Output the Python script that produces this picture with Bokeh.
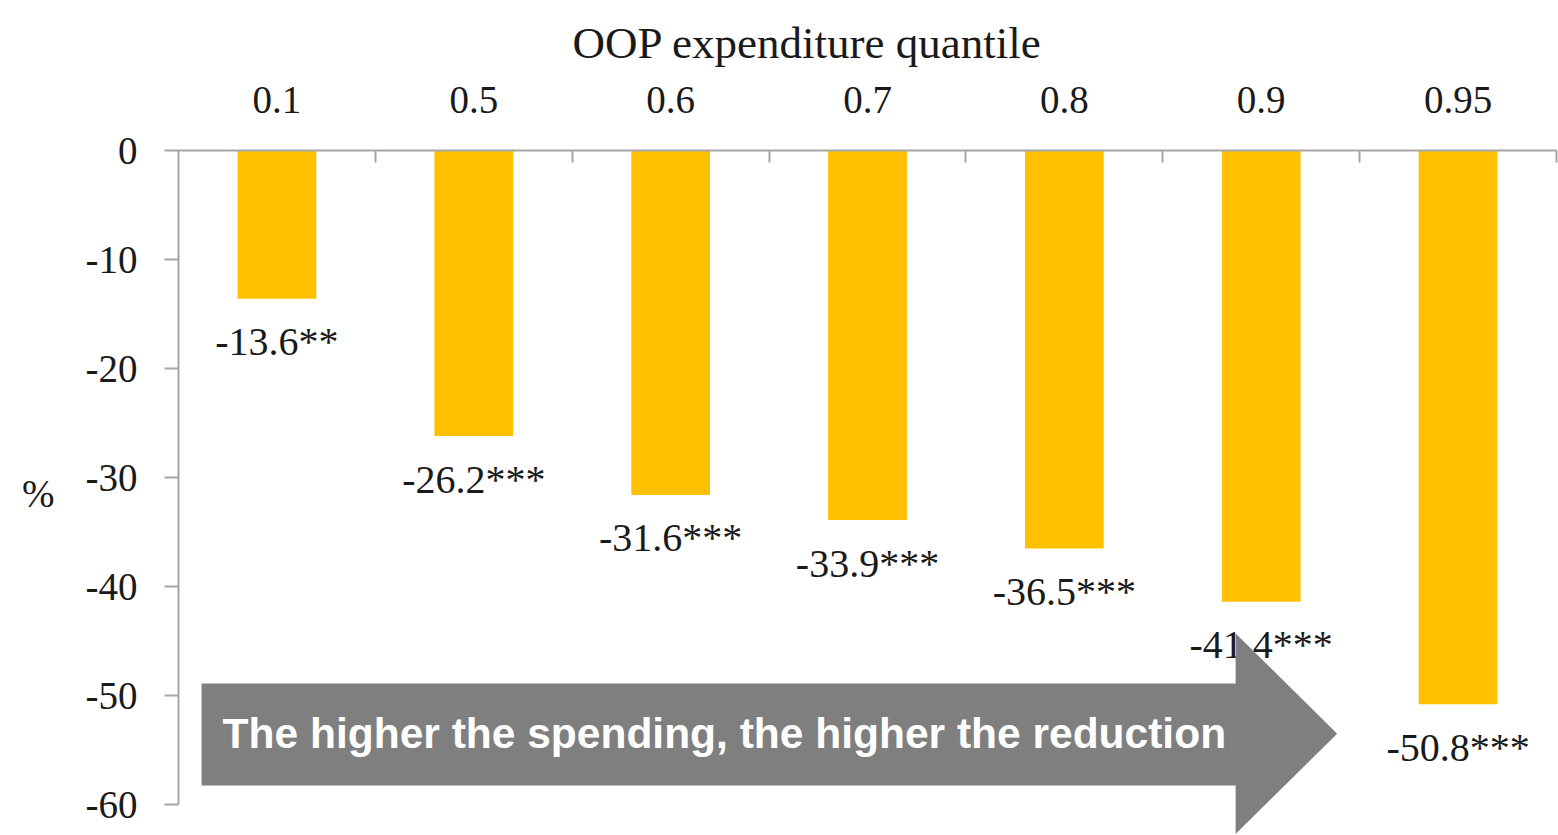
from bokeh.plotting import figure
from bokeh.models import Range1d, FixedTicker, ColumnDataSource, Label, Title
from bokeh.core.properties import value
from bokeh.embed import file_html
from bokeh.resources import INLINE

# Estimated effect on out-of-pocket spending, by expenditure quantile
quantiles = ["0.1", "0.5", "0.6", "0.7", "0.8", "0.9", "0.95"]
effects = [-13.6, -26.2, -31.6, -33.9, -36.5, -41.4, -50.8]
stars = ["**", "***", "***", "***", "***", "***", "***"]
y_ticks = [0, -10, -20, -30, -40, -50, -60]
x_title = "OOP expenditure quantile"
y_title = "%"
arrow_text = "The higher the spending, the higher the reduction"

SERIF = "Liberation Serif"
TEXT = "#1a1a1a"
AXIS = "#a6a6a6"

n = len(quantiles)
centers = [i + 0.5 for i in range(n)]
labels = [f"{v:.1f}{s}" for v, s in zip(effects, stars)]
src = ColumnDataSource(dict(x=centers, top=[0] * n, bottom=effects, label=labels))

p = figure(width=1558, height=835,
           x_range=Range1d(0, n), y_range=Range1d(-62.84, 0),
           x_axis_location="above",
           output_backend="svg", toolbar_location=None,
           min_border_left=178, min_border_right=2,
           min_border_top=150, min_border_bottom=0)
p.outline_line_color = None
p.xgrid.grid_line_color = None
p.ygrid.grid_line_color = None
p.background_fill_color = "white"
p.border_fill_color = "white"

# top category axis: labels at bar centres, tick marks at category boundaries
xa = p.xaxis[0]
xa.ticker = FixedTicker(ticks=centers, minor_ticks=list(range(1, n + 1)))
xa.major_label_overrides = {c: q for c, q in zip(centers, quantiles)}
xa.major_tick_line_color = None
xa.major_tick_out = 0
xa.major_tick_in = 0
xa.minor_tick_in = 12
xa.minor_tick_out = 0
xa.minor_tick_line_color = AXIS
xa.minor_tick_line_width = 2
xa.axis_line_color = AXIS
xa.axis_line_width = 2
xa.major_label_standoff = 38
xa.major_label_text_font = SERIF
xa.major_label_text_font_size = "39px"
xa.major_label_text_color = TEXT

ya = p.yaxis[0]
ya.ticker = FixedTicker(ticks=y_ticks)
ya.major_label_overrides = {t: str(t) for t in y_ticks}
ya.bounds = (min(y_ticks), max(y_ticks))
ya.minor_tick_line_color = None
ya.major_tick_out = 14
ya.major_tick_in = 0
ya.major_tick_line_color = AXIS
ya.major_tick_line_width = 2
ya.axis_line_color = AXIS
ya.axis_line_width = 2
ya.major_label_standoff = 27
ya.major_label_text_font = SERIF
ya.major_label_text_font_size = "39px"
ya.major_label_text_color = TEXT
ya.axis_label = y_title
ya.axis_label_standoff = 28
ya.axis_label_text_font = SERIF
ya.axis_label_text_font_size = "39px"
ya.axis_label_text_font_style = "normal"
ya.axis_label_text_color = TEXT
try:
    ya.axis_label_orientation = "horizontal"
except AttributeError:
    pass

# axis title sits above the quantile labels
p.add_layout(Title(text=x_title, align="left", offset=394,
                   vertical_align="top",
                   text_font=SERIF, text_font_size="45px",
                   text_font_style="normal", text_color=TEXT,
                   standoff=28), "above")

p.vbar(x="x", top="top", bottom="bottom", width=0.4, source=src,
       fill_color="#FFC000", line_color=None)

p.text(x="x", y="bottom", text="label", source=src,
       text_align="center", text_baseline="middle", y_offset=43,
       text_font=value(SERIF), text_font_size="40px", text_color=TEXT)

# block arrow overlay
ax0, ax1, ax2 = 0.117, 5.37, 5.886
p.patch(x=[ax0, ax1, ax1, ax2, ax1, ax1, ax0],
        y=[-48.9, -48.9, -44.3, -53.5, -62.7, -58.26, -58.26],
        fill_color="#7f7f7f", line_color=None)
p.add_layout(Label(x=0.224, y=-53.5, text=arrow_text, text_align="left",
                   text_baseline="middle", text_font="Liberation Sans",
                   text_font_style="bold", text_font_size="42.5px",
                   text_color="white"))

open("out.html", "w").write(file_html(p, INLINE))
